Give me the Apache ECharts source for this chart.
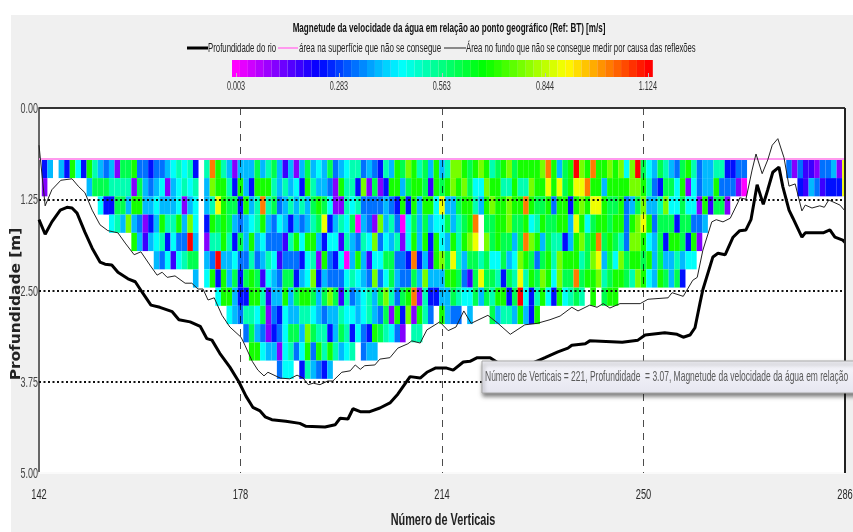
<!DOCTYPE html>
<html><head><meta charset="utf-8">
<style>html,body{margin:0;padding:0;background:#fff}#c{width:853px;height:532px}</style>
<script src="https://cdn.jsdelivr.net/npm/echarts@6/dist/echarts.min.js"></script>
</head><body><div id="c"></div>
<script>
const chartTitle = 'Magnetude da velocidade da água em relação ao ponto geográfico (Ref: BT) [m/s]';
const seriesBed = 'Profundidade do rio';
const seriesTop = 'área na superfície que não se consegue';
const seriesBottom = 'Área no fundo que não se consegue medir por causa das reflexões';
const xTicks = [142, 178, 214, 250, 286];
const yTicks = [0, 1.25, 2.5, 3.75, 5];
const scaleTicks = [0.003, 0.283, 0.563, 0.844, 1.124];
const tipText = 'Número de Verticais = 221, Profundidade  = 3.07, Magnetude da velocidade da água em relação';

// speed read per colour class from the picture (m/s)
const speedLevels = {m:0.01,p:0.12,i:0.18,b:0.24,d:0.33,a:0.40,c:0.46,t:0.53,s:0.61,g:0.68,l:0.78,y:0.88,o:1.01,r:1.12};
// cell depth rows: top depth of first row and row thickness (m)
const firstRowTop = 0.71, rowHeight = 0.25;
// one string per depth row, one letter per vertical from 143 to 286 ('.' = no data)
const row00 = 'ba.abgcbgt adapssgddb ddactctb.t ogtapaaasa tsaiapasac asdacttdad btagslgtsa gatllgsglg tsglsggggl ogasgrlgog glglclrsca stadsgtdaa ttbbdd.... ...dpdiipd dapy';
const row01 = 'p.......as ssttttpsad acpactct.a lggtbgabgg gtatacbgta adpgttblps pbggasggsi gsglglsccl ggttgttlgg ygysgyyogg aggggllgtd bsscgpcdaa gdddpm.... .....biadi bbby';
const row02 = '.......... cbbssaggaa caaacpac.a tygssbgato tsdatatasg scpptctddd dadbgbgagg cyaasggtag lgglggogss gdggbglgyy gssgdaslaa tlccsccpgi ssp';
const row03 = '.......... ..ctaladpb agttgalc.b gsgsadactg adcabadats ybatcsmadp latdmcsasa ccsatsgo.s sgglssgctg ssggaygcsg gsggdglygd sssbssdda.';
const row04 = '.......... ......gaia ctbcddra.p ttgtbsagac ddditgcgga bccitadtcl dcatpcgagb gcagtgly.l sgssasolga sttbaglsgo sgstdllgca sbggsbgp..';
const row05 = '.......... .......... adcictss.a draacddtda tcidddbctp gdbcmagaic cssddbobai glsytassts ccsaclgsds gtlgggtsly asclsggsga saatacc...';
const row06 = '.......... .......... .......a.c gbgasbsgsi cadssbaclb adddctcadl dcsaddsala aaggsdisys stbstytgsl gclssosggl tsggstlgca gsasb';
const row07 = '.......... .......... .......... .cggabbggt iaagasggsa slsitdacta sltdsgoptb baastccsas tggbsrcbtg cbgctst.g. sgg';
const row08 = '.......... .......... .......... ...cadttcs pdbcaattca daatccacta dspgblpgtd .gadd.a... sattagabg.';
const row09 = '.......... .......... .......... ......dsad pbdcssalst tbastbcdbg stcdp.tt..';
const row10 = '.......... .......... .......... .......ggc aapctdcgdg tgtact.daa';
const row11 = '.......... .......... .......... .......... ..dcc.btad ba';
const speedRows = [row00,row01,row02,row03,row04,row05,row06,row07,row08,row09,row10,row11];

// [vertical, depth in m]
const bedLine = [[142,1.53],[143.1,1.73],[144.3,1.56],[145.8,1.40],[147,1.36],[147.9,1.37],[148.8,1.44],[150.2,1.70],[151.5,1.92],[152.9,2.11],[153.8,2.14],[155,2.15],[156.1,2.25],[157.9,2.34],[159.2,2.38],[160.4,2.52],[162,2.70],[163.6,2.73],[165.8,2.79],[167,2.90],[169,2.93],[170.8,2.99],[172,3.16],[172.9,3.18],[174.3,3.36],[176.1,3.55],[177.7,3.75],[179,3.95],[180.2,4.10],[181.5,4.15],[182.4,4.23],[183.6,4.27],[186.1,4.29],[188.6,4.32],[189.7,4.36],[193.1,4.37],[194.9,4.34],[195.8,4.25],[197.2,4.26],[198.1,4.12],[199.4,4.16],[201.1,4.16],[202.9,4.11],[204.7,4.04],[206.1,3.92],[208.3,3.68],[210.1,3.70],[211.3,3.62],[212.9,3.56],[214.7,3.56],[216,3.59],[217.8,3.48],[219,3.47],[220.3,3.42],[222.6,3.42],[224.4,3.51],[229.7,3.51],[231.5,3.45],[232.4,3.42],[234.7,3.34],[236.5,3.29],[237.2,3.25],[239.6,3.23],[240.4,3.19],[246.2,3.21],[249,3.18],[250.3,3.11],[253.8,3.08],[256,3.10],[257.1,3.14],[258.3,3.11],[259.2,3.01],[260.1,2.67],[260.6,2.49],[262.4,2.04],[263.3,1.99],[264.6,2.01],[266,1.77],[267.2,1.68],[268.3,1.67],[269.2,1.53],[270.3,1.05],[271.4,1.32],[272.2,1.12],[273.1,0.88],[274.2,0.81],[274.9,1.08],[276,1.40],[276.7,1.51],[278.3,1.77],[278.9,1.71],[282.1,1.71],[283.3,1.67],[284.2,1.77],[285.6,1.81],[286,1.84]];
const bottomLine = [[142,0.51],[143.1,1.34],[144.3,1.12],[145.9,0.99],[147.9,0.97],[149,1.07],[150.2,1.16],[151.5,1.40],[152.9,1.60],[154.3,1.68],[156.1,1.71],[157.4,1.85],[159,2.01],[160.2,1.97],[161.8,2.15],[163.1,2.29],[164,2.25],[164.9,2.32],[166.3,2.30],[168.1,2.40],[169.3,2.40],[170.4,2.48],[171.3,2.48],[172.2,2.63],[173.3,2.60],[174.7,2.84],[176.1,3.00],[178.1,3.14],[178.8,3.25],[180.1,3.47],[181.1,3.59],[182.2,3.67],[182.9,3.62],[185.1,3.70],[186.8,3.71],[188.1,3.66],[189.2,3.70],[190.1,3.79],[191,3.77],[192.2,3.79],[193.6,3.74],[194.5,3.74],[196.1,3.62],[197.6,3.60],[198.5,3.52],[199.4,3.58],[200.2,3.53],[202,3.52],[202.9,3.44],[204.7,3.42],[206.1,3.29],[207.9,3.23],[208.6,3.19],[210.1,3.22],[211.3,3.04],[213.6,2.93],[215.1,3.05],[216.5,3.00],[217.9,2.78],[219.2,2.95],[222.2,2.84],[224,2.95],[226.2,3.10],[228.8,2.97],[231,2.95],[233.3,2.90],[235.1,2.85],[237.2,2.73],[238.3,2.78],[240.4,2.70],[241.7,2.73],[242.8,2.68],[244,2.74],[245.8,2.68],[249.4,2.68],[250.8,2.62],[254.4,2.60],[255.1,2.53],[257.1,2.58],[258.8,2.36],[259.6,2.32],[260.6,1.95],[262.2,1.56],[263,1.53],[264.2,1.56],[265.5,1.51],[266.9,1.29],[267.2,1.23],[268.3,1.25],[269.4,0.85],[270.1,0.63],[271.2,0.90],[272.2,0.71],[273,0.51],[274,0.42],[275.1,0.68],[276,1.07],[277.1,1.04],[278.3,1.41],[278.9,1.33],[280.1,1.37],[281.5,1.34],[282.3,1.36],[283.1,1.26],[285.1,1.33],[286,1.41]];
const surfaceLine = [[142,0.70],[286,0.70]];

const FONT = '"Liberation Sans",sans-serif';
const cells = [];
speedRows.forEach((row, r) => {
  row.replace(/ /g, '').split('').forEach((ch, k) => {
    if (speedLevels[ch] !== undefined) {
      const top = firstRowTop + r * rowHeight;
      cells.push([143 + k, top, top + rowHeight, speedLevels[ch]]);
    }
  });
});

const chart = echarts.init(document.getElementById('c'), null, {renderer:'canvas'});
chart.setOption({
  animation:false,
  backgroundColor:'#fff',
  legend:{show:false},
  visualMap:[{type:'piecewise',seriesIndex:0,dimension:3,min:0.003,max:1.124,splitNumber:53,
    orient:'horizontal',left:232,top:60,itemWidth:7.94,itemHeight:17,itemGap:0,itemSymbol:'rect',
    showLabel:false,selectedMode:false,hoverLink:false,padding:0,
    inRange:{color:['#ff00ff','#0000ff','#00ffff','#00ff00','#ffff00','#ff0000']}}],
  grid:[
    {left:39,right:8,top:108,bottom:59,show:true,backgroundColor:'#fff',borderWidth:0,z:1,outerBoundsMode:'none'},
    {left:232,width:421,top:60,height:17,show:false,outerBoundsMode:'none'}
  ],
  xAxis:[
    {type:'value',gridIndex:0,min:142,max:286,splitLine:{show:false},z:4,
      axisLine:{show:true,onZero:false,lineStyle:{color:'#fafafa',width:2}},axisTick:{show:false},axisLabel:{show:false}},
    {type:'value',gridIndex:1,min:-0.008,max:1.138,z:20,splitLine:{show:false},
      axisLine:{show:false},
      axisTick:{customValues:scaleTicks,inside:true,length:4,lineStyle:{color:'#bbb',width:1}},
      axisLabel:{show:false}}
  ],
  yAxis:[
    {type:'value',gridIndex:0,min:0,max:5,interval:1.25,inverse:true,splitLine:{show:false},z:4,
      axisLine:{show:true,onZero:false,lineStyle:{color:'#666',width:2}},axisTick:{show:false},axisLabel:{show:false}},
    {type:'value',gridIndex:1,min:0,max:1,show:false}
  ],
  series:[
    {type:'custom',name:'cells',xAxisIndex:0,yAxisIndex:0,z:2,clip:true,silent:true,
      data:cells,encode:{x:0,y:[1,2]},
      renderItem:function(params,api){
        const a = api.coord([api.value(0)-0.5, api.value(1)]);
        const b = api.coord([api.value(0)+0.5, api.value(2)]);
        return {type:'rect',shape:{x:a[0],y:a[1],width:b[0]-a[0],height:b[1]-a[1]},
          style:{fill:api.visual('color')}};
      }},
    {type:'line',name:seriesTop,data:surfaceLine,symbol:'none',z:5,lineStyle:{color:'#ff99ee',width:2}},
    {type:'line',name:seriesBottom,data:bottomLine,symbol:'none',z:6,clip:false,lineStyle:{color:'#222',width:1}},
    {type:'line',name:seriesBed,data:bedLine,symbol:'none',z:7,clip:false,lineStyle:{color:'#000',width:3},
      markLine:{silent:true,symbol:'none',animation:false,label:{show:false},z:8,
        data:[
          ...xTicks.slice(1,4).map(v=>({xAxis:v,lineStyle:{color:'rgba(0,0,0,.7)',type:[7,6],width:1}})),
          ...yTicks.slice(1,4).map(v=>({yAxis:v,lineStyle:{color:'#111',type:[2,2.5],width:2}})),
          {yAxis:0,lineStyle:{color:'#333',type:'solid',width:2}},
          {xAxis:286,lineStyle:{color:'#222',type:'solid',width:2}}
        ]}}
  ]
});

// condensed real text placed from the library's scales
function txt(text,x,y,size,sx,opts){
  return {type:'text',z:30,x:x,y:y,scaleX:sx,style:Object.assign({text:text,fontFamily:FONT,fontSize:size,
    fill:'#333',align:'center',verticalAlign:'middle'},opts||{})};
}
const g = [{type:'rect',z:-10,shape:{x:11,y:15,width:842,height:517},style:{fill:'#f0f0f0'}}];
xTicks.forEach(v=>{const p=chart.convertToPixel({xAxisIndex:0},v);g.push(txt(String(v),p,495,15.5,0.6,{fill:'#2a2a2a'}));});
yTicks.forEach(v=>{const p=chart.convertToPixel({yAxisIndex:0},v);g.push(txt(v.toFixed(2),38,p+1,15,0.6,{align:'right',fill:'#444'}));});
scaleTicks.forEach(v=>{const p=chart.convertToPixel({xAxisIndex:1},v);g.push(txt(v.toFixed(3),p,87,12.5,0.58));});
g.push(txt(chartTitle,449,29,12.5,0.645,{fontWeight:'bold',fill:'#111'}));
g.push(txt('Número de Verticais',443,520,16.5,0.66,{fontWeight:'bold',fill:'#222'}));
[[187,208,3,'#000'],[278,298,2,'#ff99ee'],[444,466,1,'#222']].forEach(l=>{
  g.push({type:'line',z:30,shape:{x1:l[0],y1:48,x2:l[1],y2:48},style:{stroke:l[3],lineWidth:l[2]}});
});
g.push(txt(seriesBed,208,48,13,0.6,{align:'left',fill:'#222'}));
g.push(txt(seriesTop,299,48,13,0.613,{align:'left',fill:'#222'}));
g.push(txt(seriesBottom,466,48,13,0.593,{align:'left',fill:'#222'}));
g.push({type:'text',z:30,x:16,y:304,rotation:Math.PI/2,scaleX:1.14,
  style:{text:'Profundidade [m]',fontFamily:'"DejaVu Sans"',fontWeight:'bold',fontSize:13.5,fill:'#222',align:'center',verticalAlign:'middle'}});
g.push({type:'rect',z:40,shape:{x:482,y:361,width:380,height:32},
  style:{fill:{type:'linear',x:0,y:0,x2:0,y2:1,colorStops:[{offset:0,color:'#f7f7fc'},{offset:1,color:'#e6e6f0'}]},
    stroke:'#a8a8a8',lineWidth:1,shadowBlur:4,shadowOffsetX:1,shadowOffsetY:3,shadowColor:'rgba(0,0,0,.5)'}});
g.push(txt(tipText,485,377,14.5,0.585,{align:'left',fill:'#5a5a5a'}));
g[g.length-1].z=41;
chart.setOption({graphic:g});
</script></body></html>
